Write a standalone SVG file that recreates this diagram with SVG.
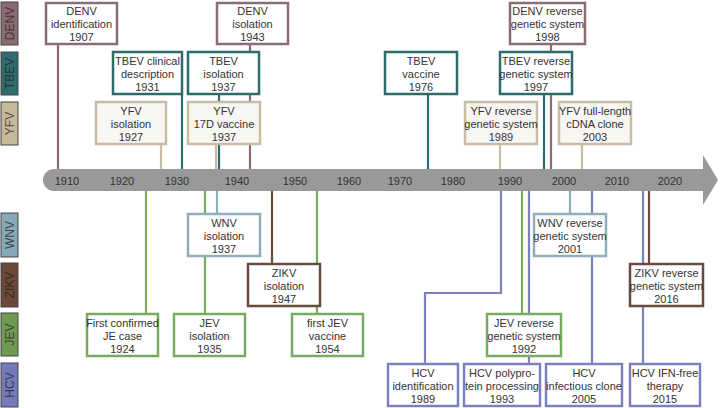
<svg xmlns="http://www.w3.org/2000/svg" width="720" height="408" viewBox="0 0 720 408">
<style>
text{font-family:"Liberation Sans",Arial,sans-serif;font-size:11px;fill:#333;text-anchor:middle}
.lab text{font-size:12px;fill:#222;fill-opacity:.75}
.lab rect{stroke:#444;stroke-width:1}
.box rect{fill:#fff;stroke-width:2.5}
.line path{fill:none;stroke-width:2.2}
.denv{stroke:#8c6b75}.tbev{stroke:#2d6b6d}.yfv{stroke:#c9bca2}.wnv{stroke:#8eaebd}.zikv{stroke:#6a4a3d}.jev{stroke:#78aa60}.hcv{stroke:#7b80c0}
.yr{fill:#333;font-size:11px}
</style>
<g id="labels" class="lab">
<rect x="1" y="2" width="17" height="43" fill="#8b6a72"/><text transform="translate(13.5,23.5) rotate(-90)">DENV</text>
<rect x="1" y="52" width="17" height="43" fill="#2e6d6e"/><text transform="translate(13.5,73.5) rotate(-90)">TBEV</text>
<rect x="1" y="102" width="17" height="43" fill="#c7b99b"/><text transform="translate(13.5,123.5) rotate(-90)">YFV</text>
<rect x="1" y="213" width="17" height="44" fill="#87a9b7"/><text transform="translate(13.5,235) rotate(-90)">WNV</text>
<rect x="1" y="263" width="17" height="44" fill="#6b4838"/><text transform="translate(13.5,285) rotate(-90)">ZIKV</text>
<rect x="1" y="313" width="17" height="43" fill="#6e9a52"/><text transform="translate(13.5,334.5) rotate(-90)">JEV</text>
<rect x="1" y="363" width="17" height="44" fill="#7479bb"/><text transform="translate(13.5,385) rotate(-90)">HCV</text>
</g>
<g id="connectors" class="line">
<path class="denv" d="M58 44V180"/>
<path class="denv" d="M250 44V180"/>
<path class="denv" d="M551 44V180"/>
<path class="tbev" d="M182 95V180"/>
<path class="tbev" d="M219 95V180"/>
<path class="tbev" d="M428 95V180"/>
<path class="tbev" d="M544 95V180"/>
<path class="yfv" d="M161 145V180"/>
<path class="yfv" d="M216 145V180"/>
<path class="yfv" d="M500 145V180"/>
<path class="yfv" d="M582 145V180"/>
<path class="wnv" d="M217 180V213"/>
<path class="wnv" d="M570 180V213"/>
<path class="zikv" d="M272 180V263"/>
<path class="zikv" d="M649 180V263"/>
<path class="jev" d="M146 180V313"/>
<path class="jev" d="M205 180V313"/>
<path class="jev" d="M317 180V313"/>
<path class="jev" d="M522 180V313"/>
<path class="hcv" d="M501 180V293H425V363"/>
<path class="hcv" d="M529 180V363"/>
<path class="hcv" d="M592 180V363"/>
<path class="hcv" d="M643 180V363"/>
</g>
<g id="timeline">
<path d="M54 169H703V155L718 180L703 205V191H54A11 11 0 0 1 54 169Z" fill="#999"/>
<text class="yr" x="67" y="185">1910</text>
<text class="yr" x="122" y="185">1920</text>
<text class="yr" x="177" y="185">1930</text>
<text class="yr" x="237" y="185">1940</text>
<text class="yr" x="295" y="185">1950</text>
<text class="yr" x="349" y="185">1960</text>
<text class="yr" x="400" y="185">1970</text>
<text class="yr" x="453" y="185">1980</text>
<text class="yr" x="510" y="185">1990</text>
<text class="yr" x="564" y="185">2000</text>
<text class="yr" x="617" y="185">2010</text>
<text class="yr" x="670" y="185">2020</text>
</g>
<g id="denv1907" class="box"><rect class="denv" x="46" y="3" width="71" height="41"/><text x="81.5" y="15">DENV</text><text x="81.5" y="28">identification</text><text x="81.5" y="41">1907</text></g>
<g id="denv1943" class="box"><rect class="denv" x="217" y="3" width="71" height="41"/><text x="252.5" y="15">DENV</text><text x="252.5" y="28">isolation</text><text x="252.5" y="41">1943</text></g>
<g id="denv1998" class="box"><rect class="denv" x="510" y="3" width="75" height="41"/><text x="547.5" y="15">DENV reverse</text><text x="547.5" y="28">genetic system</text><text x="547.5" y="41">1998</text></g>
<g id="tbev1931" class="box"><rect class="tbev" x="113" y="52" width="69" height="42"/><text x="147.5" y="65">TBEV clinical</text><text x="147.5" y="78">description</text><text x="147.5" y="91">1931</text></g>
<g id="tbev1937" class="box"><rect class="tbev" x="188" y="52" width="71" height="42"/><text x="223.5" y="65">TBEV</text><text x="223.5" y="78">isolation</text><text x="223.5" y="91">1937</text></g>
<g id="tbev1976" class="box"><rect class="tbev" x="385" y="52" width="72" height="42"/><text x="421" y="65">TBEV</text><text x="421" y="78">vaccine</text><text x="421" y="91">1976</text></g>
<g id="tbev1997" class="box"><rect class="tbev" x="500" y="52" width="72" height="42"/><text x="536" y="65">TBEV reverse</text><text x="536" y="78">genetic system</text><text x="536" y="91">1997</text></g>
<g id="yfv1927" class="box"><rect class="yfv" x="96" y="102" width="70" height="42" style="fill:#f7f6f3"/><text x="131" y="115">YFV</text><text x="131" y="128">isolation</text><text x="131" y="141">1927</text></g>
<g id="yfv1937" class="box"><rect class="yfv" x="188" y="102" width="72" height="42" style="fill:#f7f6f3"/><text x="224" y="115">YFV</text><text x="224" y="128">17D vaccine</text><text x="224" y="141">1937</text></g>
<g id="yfv1989" class="box"><rect class="yfv" x="465" y="102" width="72" height="42" style="fill:#f7f6f3"/><text x="501" y="115">YFV reverse</text><text x="501" y="128">genetic system</text><text x="501" y="141">1989</text></g>
<g id="yfv2003" class="box"><rect class="yfv" x="559" y="102" width="72" height="42" style="fill:#f7f6f3"/><text x="595" y="115">YFV full-length</text><text x="595" y="128">cDNA clone</text><text x="595" y="141">2003</text></g>
<g id="wnv1937" class="box"><rect class="wnv" x="188" y="214" width="72" height="42"/><text x="224" y="227">WNV</text><text x="224" y="240">isolation</text><text x="224" y="253">1937</text></g>
<g id="wnv2001" class="box"><rect class="wnv" x="534" y="214" width="72" height="42"/><text x="570" y="227">WNV reverse</text><text x="570" y="240">genetic system</text><text x="570" y="253">2001</text></g>
<g id="zikv1947" class="box"><rect class="zikv" x="248" y="264" width="72" height="42"/><text x="284" y="277">ZIKV</text><text x="284" y="290">isolation</text><text x="284" y="303">1947</text></g>
<g id="zikv2016" class="box"><rect class="zikv" x="630" y="264" width="73" height="42"/><text x="666.5" y="277">ZIKV reverse</text><text x="666.5" y="290">genetic system</text><text x="666.5" y="303">2016</text></g>
<g id="jev1924" class="box"><rect class="jev" x="87" y="314" width="71" height="42"/><text x="122.5" y="327">First confirmed</text><text x="122.5" y="340">JE case</text><text x="122.5" y="353">1924</text></g>
<g id="jev1935" class="box"><rect class="jev" x="174" y="314" width="71" height="42"/><text x="209.5" y="327">JEV</text><text x="209.5" y="340">isolation</text><text x="209.5" y="353">1935</text></g>
<g id="jev1954" class="box"><rect class="jev" x="292" y="314" width="71" height="42"/><text x="327.5" y="327">first JEV</text><text x="327.5" y="340">vaccine</text><text x="327.5" y="353">1954</text></g>
<g id="jev1992" class="box"><rect class="jev" x="487" y="314" width="74" height="42"/><text x="524" y="327">JEV reverse</text><text x="524" y="340">genetic system</text><text x="524" y="353">1992</text></g>
<g id="hcv1989" class="box"><rect class="hcv" x="388" y="364" width="70" height="42"/><text x="423" y="377">HCV</text><text x="423" y="390">identification</text><text x="423" y="403">1989</text></g>
<g id="hcv1993" class="box"><rect class="hcv" x="464" y="364" width="76" height="42"/><text x="502" y="377">HCV polypro-</text><text x="502" y="390">tein processing</text><text x="502" y="403">1993</text></g>
<g id="hcv2005" class="box"><rect class="hcv" x="546" y="364" width="76" height="42"/><text x="584" y="377">HCV</text><text x="584" y="390">infectious clone</text><text x="584" y="403">2005</text></g>
<g id="hcv2015" class="box"><rect class="hcv" x="630" y="364" width="70" height="42"/><text x="665" y="377">HCV IFN-free</text><text x="665" y="390">therapy</text><text x="665" y="403">2015</text></g>
</svg>
